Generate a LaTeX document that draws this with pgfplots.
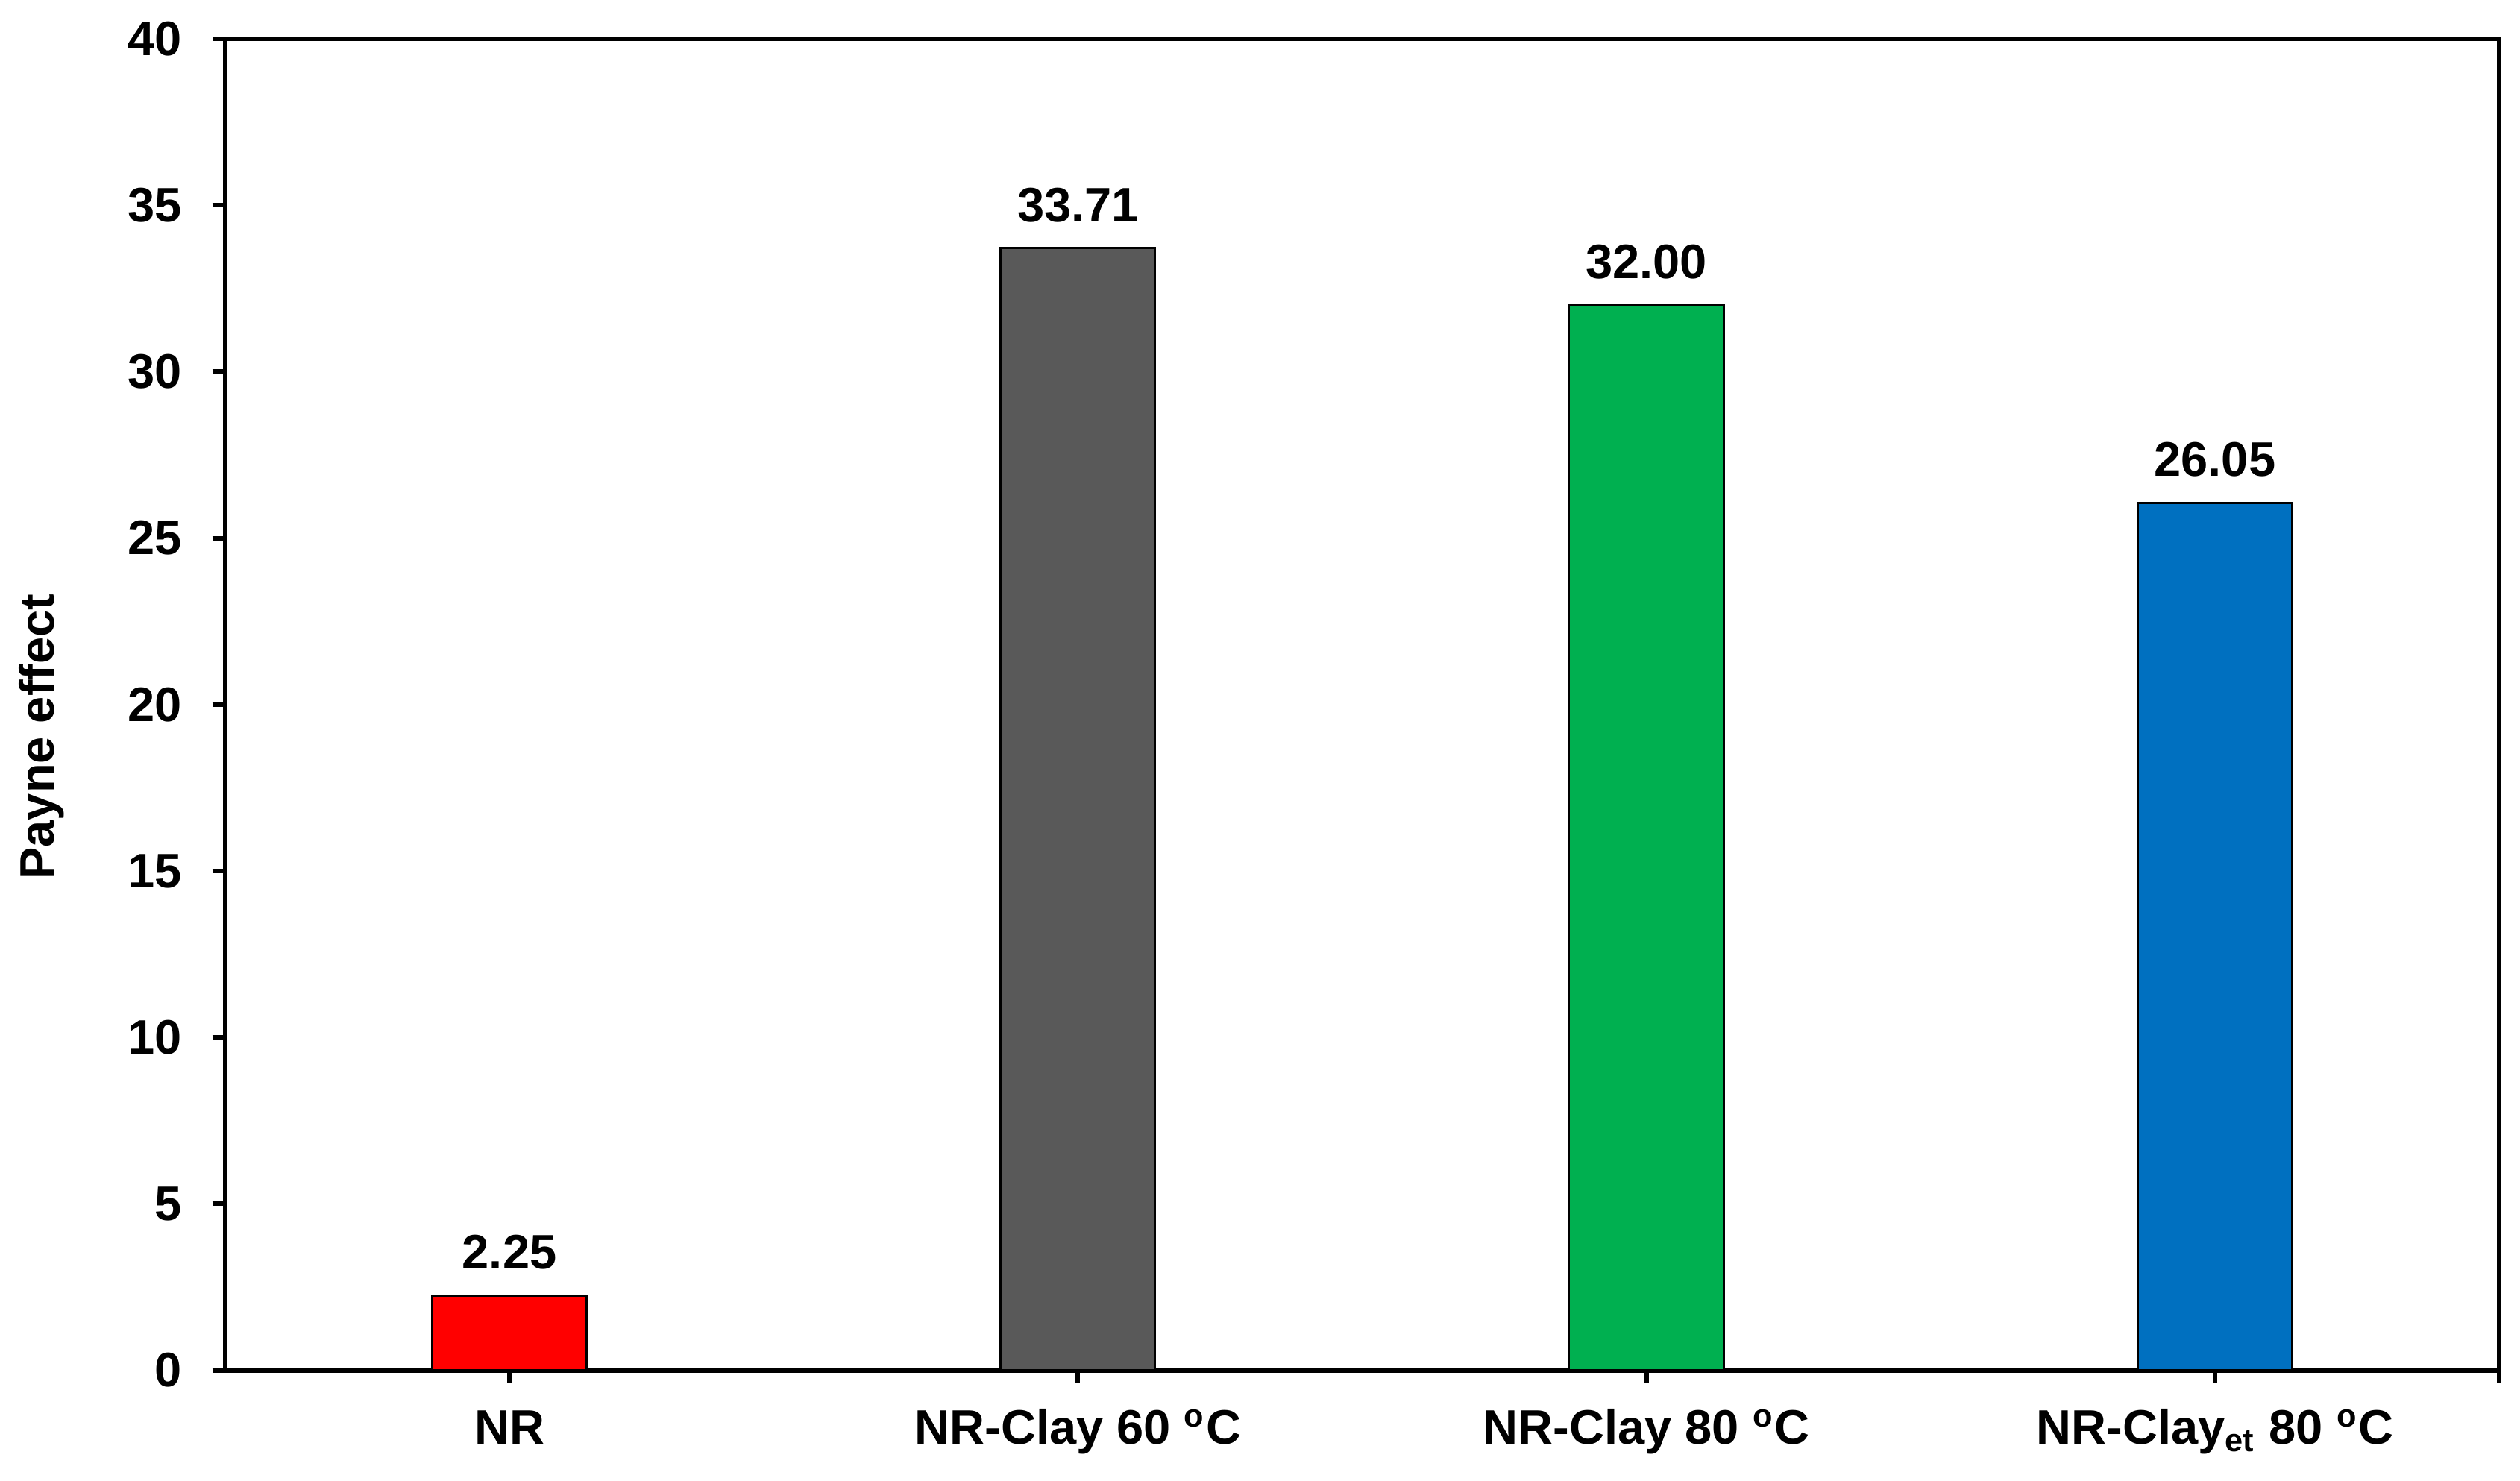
\documentclass[border=0pt]{standalone}
\usepackage{fontspec}
\setmainfont{Liberation Sans}
\usepackage{pgfplots}
\pgfplotsset{compat=1.18}

\definecolor{barred}{RGB}{255,0,0}
\definecolor{bargray}{RGB}{89,89,89}
\definecolor{bargreen}{RGB}{0,176,80}
\definecolor{barblue}{RGB}{0,112,192}

\begin{document}
\begin{tikzpicture}[font=\fontsize{12}{14.4}\selectfont\bfseries]
\begin{axis}[
    scale only axis,
    width=563pt, height=329.7pt,
    xmin=-0.5, xmax=3.5,
    ymin=0, ymax=40,
    ytick={0,5,...,40},
    xtick={0,1,2,3},
    xticklabels={NR,
                 NR-Clay 60 \textsuperscript{o}C,
                 NR-Clay 80 \textsuperscript{o}C,
                 NR-Clay\textsubscript{et} 80 \textsuperscript{o}C},
    extra x ticks={3.5}, extra x tick labels={},
    tick align=outside,
    major tick length=3.2pt,
    xtick pos=bottom, ytick pos=left,
    axis line style={line width=1.1pt},
    every tick/.style={black, line width=1.1pt},
    /pgf/number format/assume math mode=true,
    yticklabel style={anchor=east, inner sep=0pt, xshift=-7.3pt},
    xticklabel style={anchor=base, inner sep=0pt, yshift=-15.1pt},
    ylabel={Payne effect},
    every axis y label/.style={at={(rel axis cs:0,0.5)}, rotate=90,
        anchor=center, inner sep=0pt, yshift=45.5pt, xshift=-8pt},
    ybar, bar width=0.272, bar shift=0pt,
    nodes near coords,
    nodes near coords style={anchor=base, inner sep=0pt, yshift=6.6pt,
        /pgf/number format/.cd, fixed, fixed zerofill, precision=2},
    every axis plot/.append style={draw=black, line width=0.5pt},
    clip=false,
]
\addplot[fill=barred]   coordinates {(0,2.25)};
\addplot[fill=bargray]  coordinates {(1,33.71)};
\addplot[fill=bargreen] coordinates {(2,32.00)};
\addplot[fill=barblue]  coordinates {(3,26.05)};
\coordinate (sw) at (rel axis cs:0,0);
\coordinate (ne) at (rel axis cs:1,1);
\end{axis}
\pgfresetboundingbox
\path ([shift={(-55.75pt,-27.3pt)}]sw) rectangle ([shift={(5.17pt,9.6pt)}]ne);
\end{tikzpicture}
\end{document}
